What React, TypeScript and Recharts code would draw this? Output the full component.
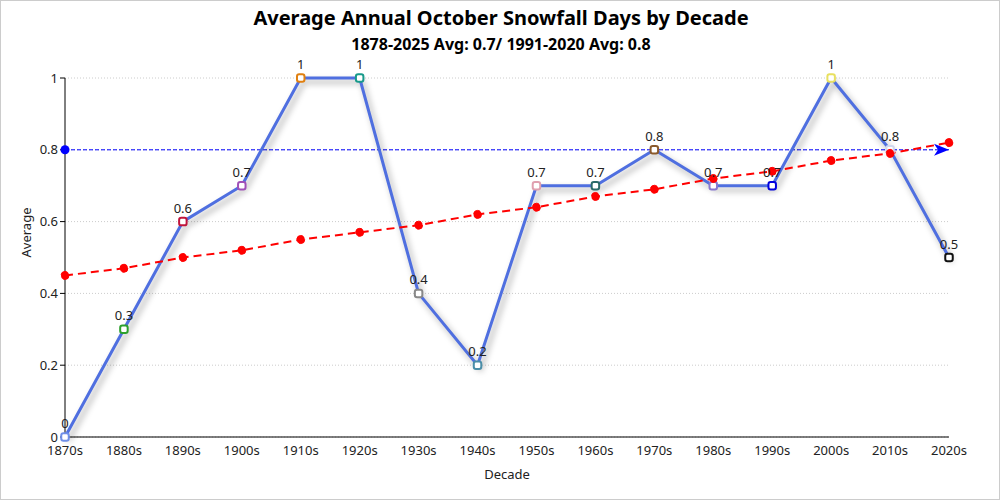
import React from 'react';
import { LineChart, Line, XAxis, YAxis, CartesianGrid, LabelList } from 'recharts';

const decades = ['1870s','1880s','1890s','1900s','1910s','1920s','1930s','1940s','1950s','1960s','1970s','1980s','1990s','2000s','2010s','2020s'];
const averages = [0, 0.3, 0.6, 0.7, 1, 1, 0.4, 0.2, 0.7, 0.7, 0.8, 0.7, 0.7, 1, 0.8, 0.5];
const trend = [0.45, 0.47, 0.5, 0.52, 0.55, 0.57, 0.59, 0.62, 0.64, 0.67, 0.69, 0.72, 0.74, 0.77, 0.79, 0.82];
const normal = 0.8;
const yTicks = [0, 0.2, 0.4, 0.6, 0.8, 1];
const markerColors = ['#6f8fe8','#2ca02c','#c0143c','#a050b8','#e08010','#189a8a','#888888','#4a8ea8','#e0a0b0','#2a6a68','#8b5a2b','#8878d0','#0000dd','#e8e060','#d0d8f0','#111111'];

const data = decades.map((d, i) => ({ decade: d, v: averages[i], trend: trend[i], avg: normal }));

const FONT = '"Segoe UI", "Noto Sans", "Open Sans", sans-serif';

const MainDot = (props: any) => {
  const { cx, cy, index } = props;
  if (cx == null || cy == null) return null;
  return (
    <rect x={cx - 3.75} y={cy - 3.75} width={7.5} height={7.5} rx={2.2} ry={2.2}
      fill="#fff" stroke={markerColors[index]} strokeWidth={2} />
  );
};

const AvgDot = (props: any) => {
  const { cx, cy, index } = props;
  if (cx == null || cy == null) return null;
  if (index === 0) return <circle cx={cx} cy={cy} r={4.5} fill="#0000ff" />;
  if (index === decades.length - 1) {
    return <polygon points={`${cx},${cy} ${cx - 15},${cy - 6} ${cx - 11},${cy} ${cx - 15},${cy + 6}`} fill="#0000ff" />;
  }
  return null;
};

export default function App() {
  return (
    <div style={{ position: 'fixed', left: 0, top: 0, width: 1000, height: 500, boxSizing: 'border-box', border: '1px solid #cccccc', background: '#fff', fontFamily: FONT }}>
      <style>{`.main-line .recharts-line-curve { filter: drop-shadow(3px 4px 3px rgba(0,0,0,0.35)); }
      .main-line .recharts-line-dots { filter: drop-shadow(2px 3px 2px rgba(0,0,0,0.35)); }`}</style>
      <div style={{ position: 'absolute', left: 0, top: 3, width: 1000, textAlign: 'center', fontWeight: 700, fontSize: 20, color: '#000' }}>
        Average Annual October Snowfall Days by Decade
      </div>
      <div style={{ position: 'absolute', left: 0, top: 32, width: 1000, textAlign: 'center', fontWeight: 700, fontSize: 16, color: '#000' }}>
        1878-2025 Avg: 0.7/ 1991-2020 Avg: 0.8
      </div>
      <div style={{ position: 'absolute', left: -1, top: -1 }}>
        <LineChart width={1000} height={500} data={data} margin={{ top: 78, right: 51, bottom: 23, left: 20 }}>
          <CartesianGrid vertical={false} stroke="#cccccc" strokeDasharray="1 2" />
          <XAxis dataKey="decade" stroke="#000" tick={{ fill: '#222', fontSize: 13, fontFamily: FONT }} tickLine={false} height={40}
            tickMargin={3}
            label={{ value: 'Decade', position: 'insideBottom', offset: 0, dy: 2, fill: '#222', fontSize: 13, fontFamily: FONT }} />
          <YAxis domain={[0, 1]} ticks={yTicks} stroke="#000" width={45} tickSize={5}
            tick={{ fill: '#222', fontSize: 13, fontFamily: FONT }}
            label={{ value: 'Average', angle: -90, position: 'insideLeft', offset: 6, fill: '#222', fontSize: 13, fontFamily: FONT }} />
          <Line dataKey="avg" stroke="#0000ff" strokeWidth={1} strokeDasharray="4 2" dot={<AvgDot />} activeDot={false} isAnimationActive={false} />
          <Line className="main-line" dataKey="v" stroke="#4f6fe0" strokeWidth={3} dot={<MainDot />} activeDot={false} isAnimationActive={false}>
            <LabelList dataKey="v" position="top" offset={9} fill="#222" fontSize={13} fontFamily={FONT} />
          </Line>
          <Line dataKey="trend" stroke="#ff0000" strokeWidth={2} strokeDasharray="8 5" dot={{ r: 4, fill: '#ff0000', stroke: '#ff0000', strokeWidth: 1 }} activeDot={false} isAnimationActive={false} />
        </LineChart>
      </div>
    </div>
  );
}
